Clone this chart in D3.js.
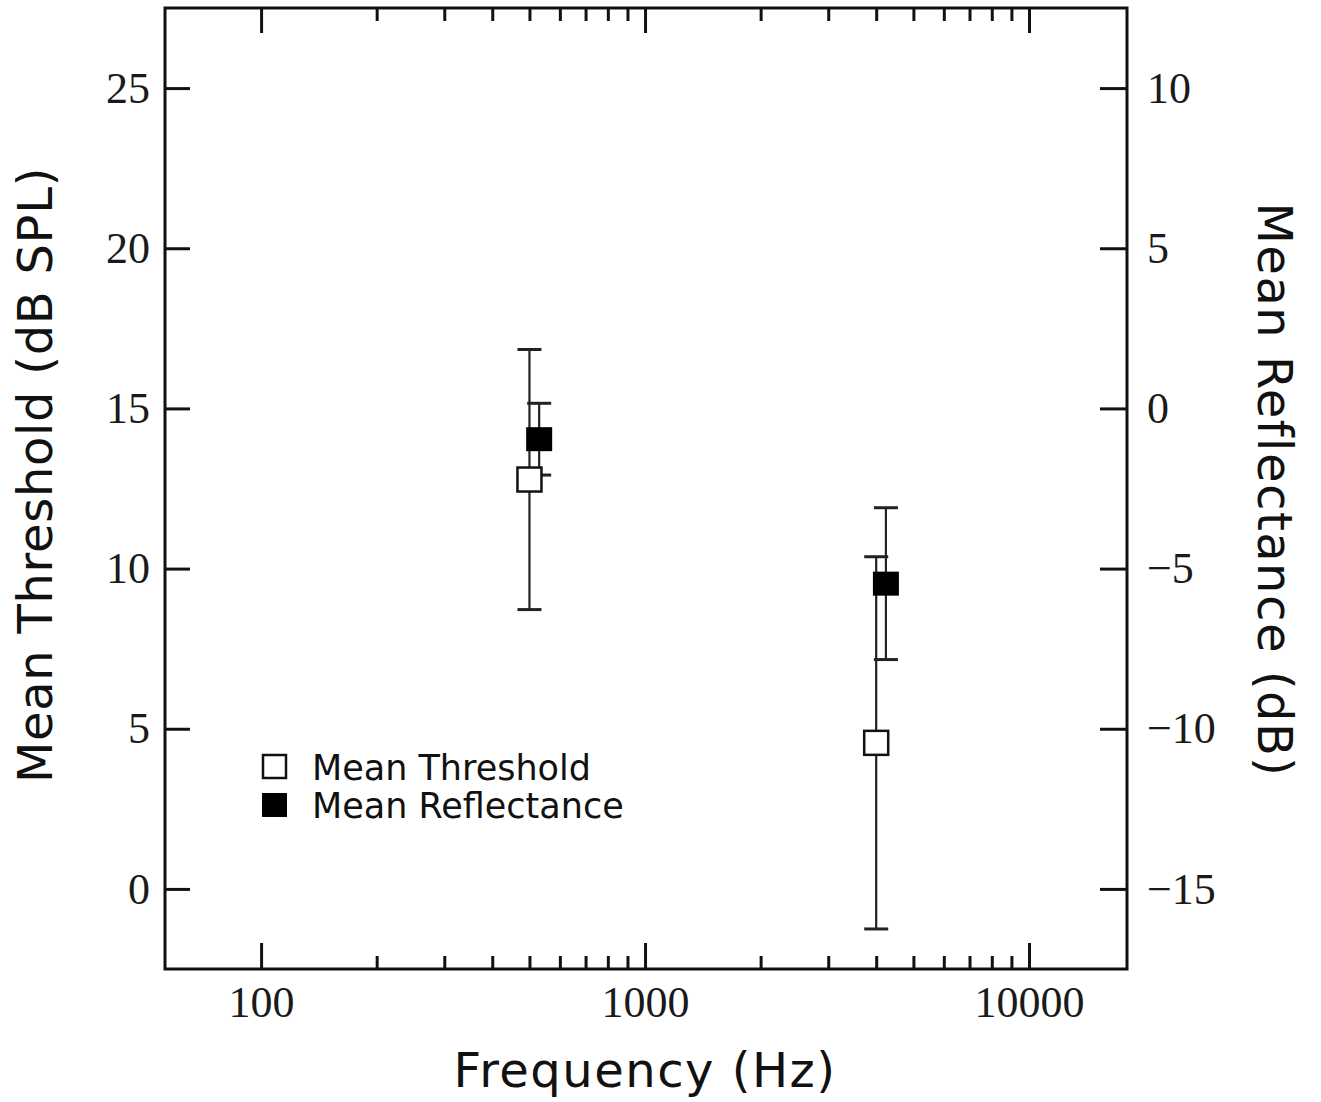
<!DOCTYPE html>
<html>
<head>
<meta charset="utf-8">
<script src="https://cdn.jsdelivr.net/npm/d3@7"></script>
<style>
  body { margin: 0; background: #fff; }
  .tick text { font-family: "Liberation Serif", serif; font-size: 44px; fill: #1a1a1a; }
  .title { font-family: "DejaVu Sans", sans-serif; font-size: 48px; fill: #111; }
  .legend text { font-family: "DejaVu Sans", sans-serif; font-size: 35px; fill: #111; }
</style>
</head>
<body>
<svg id="chart"></svg>
<script>
// threshold series (left axis, dB SPL)
const thrFreq = [500, 4000];
const thrMean = [12.78, 4.56];
const thrErr = [4.06, 5.81];

// reflectance series (right axis, dB), plotted slightly offset in frequency
const refFreq = [530, 4240];
const refMean = [-0.96, -5.47];
const refErr = [1.12, 2.37];

const xTicks = [100, 1000, 10000];
const leftTicks = [0, 5, 10, 15, 20, 25];
const rightTicks = [-15, -10, -5, 0, 5, 10];

const config = {
    width: 1321,
    height: 1102,
    left: 165, right: 1127, top: 8, bottom: 969
};

const svg = d3.select('#chart')
    .attr('width', config.width)
    .attr('height', config.height);

const x = d3.scaleLog().domain([56.2, 18000]).range([config.left, config.right]);
const yL = d3.scaleLinear().domain([-2.5, 27.5]).range([config.bottom, config.top]);
const yR = d3.scaleLinear().domain([-17.5, 12.5]).range([config.bottom, config.top]);

// minor ticks 2..9 for the 100 and 1000 decades
const minorTicks = [];
[100, 1000].forEach(dec => {
    for (let k = 2; k <= 9; k++) minorTicks.push(dec * k);
});

function styleAxis(g) {
    g.select('.domain').remove();
    g.selectAll('.tick line').attr('stroke', '#111').attr('stroke-width', 3);
}

// bottom
svg.append('g')
    .attr('transform', `translate(0,${config.bottom})`)
    .call(d3.axisBottom(x).tickValues(xTicks).tickFormat(d3.format('d')).tickSize(-26).tickPadding(17))
    .call(styleAxis);
svg.append('g')
    .attr('transform', `translate(0,${config.bottom})`)
    .call(d3.axisBottom(x).tickValues(minorTicks).tickFormat('').tickSize(-13))
    .call(styleAxis);

// top
svg.append('g')
    .attr('transform', `translate(0,${config.top})`)
    .call(d3.axisTop(x).tickValues(xTicks).tickFormat('').tickSize(-25))
    .call(styleAxis);
svg.append('g')
    .attr('transform', `translate(0,${config.top})`)
    .call(d3.axisTop(x).tickValues(minorTicks).tickFormat('').tickSize(-13))
    .call(styleAxis);

// left
svg.append('g')
    .attr('transform', `translate(${config.left},0)`)
    .call(d3.axisLeft(yL).tickValues(leftTicks).tickSize(-25).tickPadding(15))
    .call(styleAxis);

// right
svg.append('g')
    .attr('transform', `translate(${config.right},0)`)
    .call(d3.axisRight(yR).tickValues(rightTicks).tickSize(-27).tickPadding(20))
    .call(styleAxis);

// frame
svg.append('rect')
    .attr('x', config.left).attr('y', config.top)
    .attr('width', config.right - config.left)
    .attr('height', config.bottom - config.top)
    .attr('fill', 'none').attr('stroke', '#111').attr('stroke-width', 3);

// error bars
function errorBars(freq, mean, err, y) {
    const cap = 12;
    const g = svg.append('g').attr('stroke', '#222').attr('stroke-width', 2.2);
    freq.forEach((f, i) => {
        const cx = x(f);
        const y0 = y(mean[i] - err[i]), y1 = y(mean[i] + err[i]);
        g.append('line').attr('x1', cx).attr('x2', cx).attr('y1', y0).attr('y2', y1);
        g.append('line').attr('x1', cx - cap).attr('x2', cx + cap).attr('y1', y0).attr('y2', y0).attr('stroke-width', 3);
        g.append('line').attr('x1', cx - cap).attr('x2', cx + cap).attr('y1', y1).attr('y2', y1).attr('stroke-width', 3);
    });
}
errorBars(thrFreq, thrMean, thrErr, yL);
errorBars(refFreq, refMean, refErr, yR);

const sq = 24;
// filled squares: reflectance
svg.selectAll('.ref')
    .data(refFreq)
    .join('rect')
    .attr('x', (d) => x(d) - sq / 2 - 1)
    .attr('y', (d, i) => yR(refMean[i]) - sq / 2)
    .attr('width', sq + 2).attr('height', sq)
    .attr('fill', '#000');

// open squares: threshold
svg.selectAll('.thr')
    .data(thrFreq)
    .join('rect')
    .attr('x', (d) => x(d) - sq / 2)
    .attr('y', (d, i) => yL(thrMean[i]) - sq / 2)
    .attr('width', sq).attr('height', sq)
    .attr('fill', '#fff').attr('stroke', '#111').attr('stroke-width', 2.5);

// legend
const legend = svg.append('g').attr('class', 'legend');
legend.append('rect').attr('x', 263).attr('y', 755).attr('width', 23).attr('height', 23)
    .attr('fill', '#fff').attr('stroke', '#111').attr('stroke-width', 2.5);
legend.append('text').attr('x', 312).attr('y', 780).text('Mean Threshold');
legend.append('rect').attr('x', 262).attr('y', 793).attr('width', 25).attr('height', 24)
    .attr('fill', '#000');
legend.append('text').attr('x', 312).attr('y', 818).text('Mean Reflectance');

// axis titles
svg.append('text').attr('class', 'title')
    .attr('x', 645).attr('y', 1087)
    .attr('text-anchor', 'middle')
    .style('letter-spacing', '1.5px')
    .text('Frequency (Hz)');

svg.append('text').attr('class', 'title')
    .attr('transform', 'translate(52,475) rotate(-90)')
    .attr('text-anchor', 'middle')
    .style('letter-spacing', '0.7px')
    .text('Mean Threshold (dB SPL)');

svg.append('text').attr('class', 'title')
    .attr('transform', 'translate(1258,490) rotate(90)')
    .attr('text-anchor', 'middle')
    .style('letter-spacing', '1.5px')
    .text('Mean Reflectance (dB)');
</script>
</body>
</html>
